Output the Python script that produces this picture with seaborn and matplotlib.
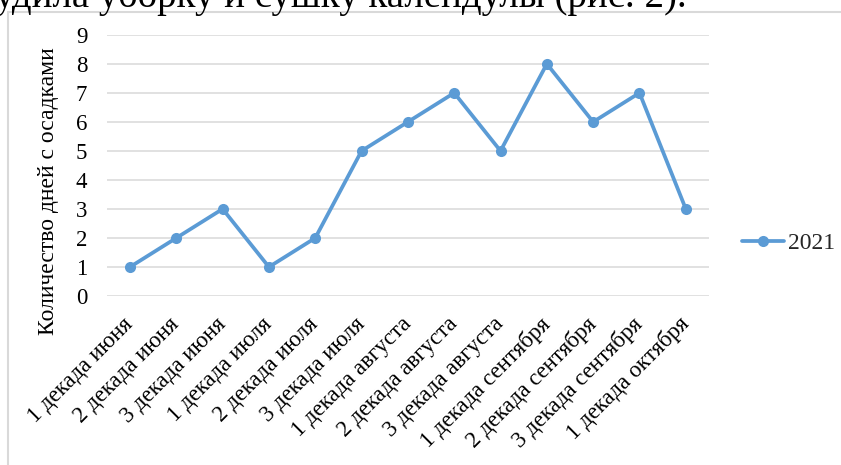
import matplotlib
matplotlib.use("Agg")
import matplotlib.pyplot as plt
import seaborn as sns
import pandas as pd
from matplotlib.patches import Rectangle

# Ten-day periods of the 2021 season and days with precipitation in each
periods = [
    "1 декада июня", "2 декада июня", "3 декада июня",
    "1 декада июля", "2 декада июля", "3 декада июля",
    "1 декада августа", "2 декада августа", "3 декада августа",
    "1 декада сентября", "2 декада сентября", "3 декада сентября",
    "1 декада октября",
]
rain_days = [1, 2, 3, 1, 2, 5, 6, 7, 5, 8, 6, 7, 3]
series_name = "2021"
y_ticks = list(range(0, 10))

sns.set_theme(style="white")
plt.rcParams["font.family"] = ["Liberation Serif", "DejaVu Serif"]

df = pd.DataFrame({"period": range(len(periods)), "days": rain_days, "year": series_name})

fig = plt.figure(figsize=(8.41, 4.65), dpi=100)
ax = fig.add_axes([0.127, 0.3634, 0.716, 0.5616])

blue = "#5b9bd5"
fs = 16.5
sns.lineplot(data=df, x="period", y="days", hue="year", palette=[blue],
             marker="o", markersize=8, markeredgewidth=0, linewidth=2.7,
             ax=ax, legend=False)

ax.set_xlim(-0.5, len(periods) - 0.5)
ax.set_ylim(0, 9)
ax.set_yticks(y_ticks)
ax.set_yticklabels([str(v) for v in y_ticks], fontsize=fs, color="#000000")
ax.set_xticks(range(len(periods)))
ax.set_xticklabels(periods, rotation=45, ha="right", va="center",
                   rotation_mode="anchor", fontsize=fs, color="#000000")
ax.tick_params(axis="y", length=0, pad=14)
ax.tick_params(axis="x", length=0, pad=18)
ax.grid(axis="y", color="#d9d9d9", linewidth=1.1)
ax.grid(axis="x", visible=False)
for s in ax.spines.values():
    s.set_visible(False)
ax.set_xlabel("")
ax.set_ylabel("Количество дней с осадками", fontsize=17, color="#000000",
              labelpad=12, y=0.4)

handle = plt.Line2D([], [], color=blue, marker="o", markersize=8,
                    markeredgewidth=0, linewidth=2.7)
fig.legend([handle], [series_name], loc="center left",
           bbox_to_anchor=(0.857, 0.477), frameon=False, fontsize=17,
           handlelength=1.8, handletextpad=0.15)

# chart frame
fig.patches.append(Rectangle((7.5 / 841, -0.2), 1.2, 1 - 12 / 465 + 0.2,
                             transform=fig.transFigure, fill=False,
                             edgecolor="#d9d9d9", linewidth=1.5))

fig.text(-0.006, 1 - 7 / 465, "удила уборку и сушку календулы (рис. 2).",
         ha="left", va="baseline", fontsize=28, color="#000000")

fig.savefig("out.png", dpi=100)
